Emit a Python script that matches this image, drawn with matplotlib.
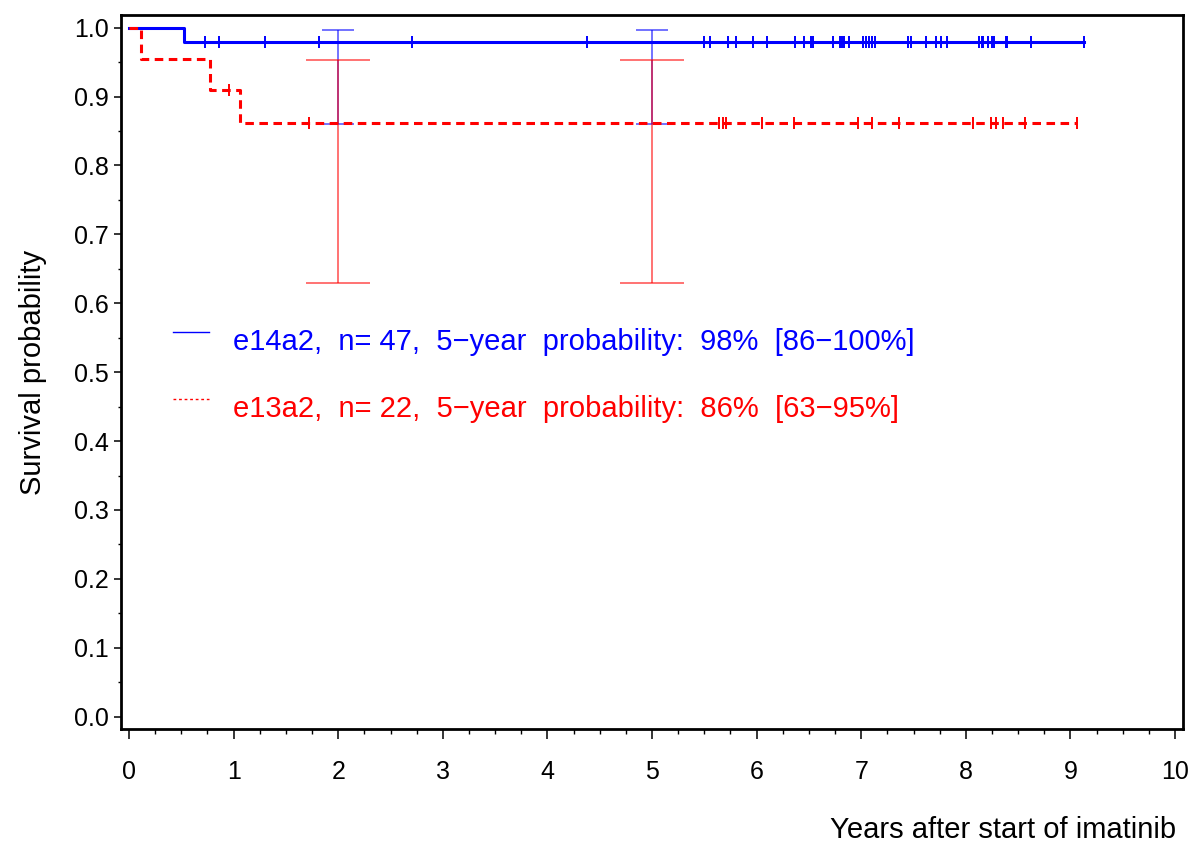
import numpy as np
import matplotlib
matplotlib.use('Agg')
import matplotlib.pyplot as plt
from matplotlib.ticker import MultipleLocator

plt.rcParams['font.family'] = ['Liberation Sans', 'DejaVu Sans']

# Kaplan-Meier step curves
blue_t = [0.0, 0.53, 9.13]
blue_s = [1.0, 0.979, 0.979]
red_t = [0.0, 0.11, 0.77, 1.06, 9.06]
red_s = [1.0, 0.955, 0.909, 0.861, 0.861]

# censored observations (years)
blue_cens = [0.73, 0.86, 1.30, 1.82, 2.71, 4.38, 5.50, 5.55, 5.73, 5.80, 5.97,
             6.10, 6.37, 6.45, 6.52, 6.54, 6.73, 6.80, 6.82, 6.84, 6.88, 7.02,
             7.05, 7.07, 7.10, 7.13, 7.45, 7.48, 7.62, 7.71, 7.76, 7.82, 8.13,
             8.15, 8.16, 8.21, 8.25, 8.27, 8.38, 8.39, 8.62, 9.13]
red_cens = [0.96, 1.72, 5.64, 5.68, 5.71, 6.05, 6.36, 6.97, 7.10, 7.36, 8.07,
            8.24, 8.29, 8.36, 8.57, 9.06]

# confidence intervals at 2 and 5 years
ci_x = [2, 5]
blue_ci_lo = [0.86, 0.86]
blue_ci_hi = [0.997, 0.997]
red_ci_lo = [0.63, 0.63]
red_ci_hi = [0.953, 0.953]
blue_est = [0.979, 0.979]
red_est = [0.861, 0.861]

blue_label = 'e14a2,  n= 47,  5\u2212year  probability:  98%  [86\u2212100%]'
red_label = 'e13a2,  n= 22,  5\u2212year  probability:  86%  [63\u221295%]'


def step_level(t, s, x):
    idx = np.searchsorted(t, x, side='right') - 1
    return np.array(s)[idx]


fig = plt.figure(figsize=(11.93, 8.42), dpi=100)
ax = fig.add_axes([121 / 1193, 113 / 842, 1062 / 1193, 714 / 842])

blue = '#0000ff'
red = '#ff0000'

# CI bars
ax.errorbar(ci_x, blue_est,
            yerr=[np.array(blue_est) - blue_ci_lo, np.array(blue_ci_hi) - blue_est],
            fmt='none', ecolor=blue, elinewidth=1.1, capsize=11.2, capthick=1.1,
            alpha=0.7, zorder=2)
ax.errorbar(ci_x, red_est,
            yerr=[np.array(red_est) - red_ci_lo, np.array(red_ci_hi) - red_est],
            fmt='none', ecolor=red, elinewidth=1.1, capsize=22.7, capthick=1.1,
            alpha=0.7, zorder=2)

# curves
ax.plot(blue_t, blue_s, drawstyle='steps-post', color=blue, lw=2.2, zorder=3)
ax.plot(blue_cens, step_level(blue_t, blue_s, blue_cens), ls='none', marker='|',
        ms=8, mew=1.4, color=blue, zorder=3)
ax.plot(red_t, red_s, drawstyle='steps-post', color=red, lw=2.2,
        ls=(0, (2.8, 1.8)), zorder=4)
ax.plot(red_cens, step_level(red_t, red_s, red_cens), ls='none', marker='|',
        ms=8, mew=1.4, color=red, zorder=4)

# legend drawn by hand
ax.plot([0.049, 0.083], [0.556, 0.556], color=blue, lw=1.0, transform=ax.transAxes)
ax.plot([0.049, 0.083], [0.462, 0.462], color=red, lw=1.0, ls=(0, (2, 2)),
        transform=ax.transAxes)
ax.text(0.1055, 0.542, blue_label, color=blue, fontsize=21, va='center',
        transform=ax.transAxes)
ax.text(0.1055, 0.448, red_label, color=red, fontsize=21, va='center',
        transform=ax.transAxes)

ax.set_xlim(-0.0765, 10.076)
ax.set_ylim(-0.0179, 1.0184)
ax.xaxis.set_major_locator(MultipleLocator(1))
ax.xaxis.set_minor_locator(MultipleLocator(0.25))
ax.yaxis.set_minor_locator(MultipleLocator(0.05))
ax.set_yticks(np.round(np.arange(0, 1.01, 0.1), 1))
ax.set_yticklabels([f'{v:.1f}' for v in np.arange(0, 1.01, 0.1)])
ax.tick_params(axis='x', which='major', direction='out', length=7, width=1.1,
               pad=15, labelsize=18)
ax.tick_params(axis='x', which='minor', direction='out', length=3.5, width=1.0)
ax.tick_params(axis='y', which='major', direction='out', length=5, width=1.1,
               pad=4, labelsize=18)
ax.tick_params(axis='y', which='minor', direction='out', length=2.5, width=1.0)
for sp in ax.spines.values():
    sp.set_linewidth(2.0)

ax.set_xlabel('Years after start of imatinib', fontsize=21, loc='right')
ax.xaxis.set_label_coords(0.9934, -0.122)
ax.set_ylabel('Survival probability', fontsize=21)
ax.yaxis.set_label_coords(-0.070, 0.5)

fig.savefig('out.png', dpi=100)
